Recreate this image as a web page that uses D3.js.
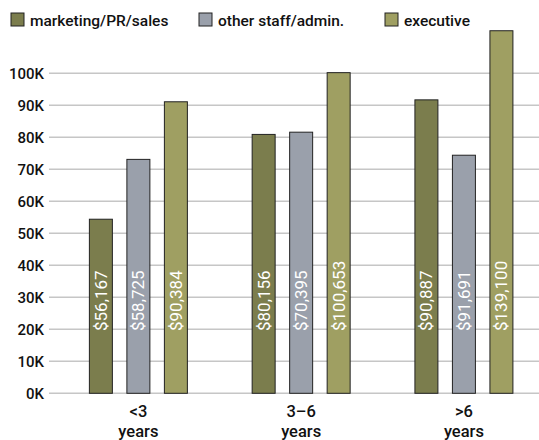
<!DOCTYPE html>
<html><head><meta charset="utf-8">
<script src="https://cdn.jsdelivr.net/npm/d3@7"></script>
<style>body{margin:0;background:#fff}svg{display:block}</style>
</head><body>
<script>
const categories = ["<3|years", "3–6|years", ">6|years"];
const seriesNames = ["marketing/PR/sales", "other staff/admin.", "executive"];
const seriesColors = ["#7b7d4d", "#9aa0ab", "#9f9f62"];
// bar heights as drawn (thousands)
const marketing = [54.4, 80.9, 91.7];
const otherStaff = [73.1, 81.6, 74.4];
const executive = [91.1, 100.2, 113.3];
// value labels printed on bars
const marketingLabels = ["$56,167", "$80,156", "$90,887"];
const otherStaffLabels = ["$58,725", "$70,395", "$91,691"];
const executiveLabels = ["$90,384", "$100,653", "$139,100"];
const yTicks = [0,10,20,30,40,50,60,70,80,90,100];

const W = 539, H = 440;
const svg = d3.select("body").append("svg").attr("width", W).attr("height", H);
const font = "Roboto, 'DejaVu Sans', sans-serif";

const y = d3.scaleLinear().domain([0, 100]).range([393.3, 73.3]);
const x0 = d3.scaleBand().domain(categories).range([57, 545.3]).paddingInner(0).paddingOuter(0);
const x1 = d3.scaleBand().domain(seriesNames).range([x0.bandwidth()/2 - 49, x0.bandwidth()/2 + 49]).paddingInner(0.387).paddingOuter(0);

// grid
const plotL = 49, plotR = 539;
svg.append("g").selectAll("line").data(yTicks).join("line")
  .attr("x1", plotL).attr("x2", plotR)
  .attr("y1", d => y(d)).attr("y2", d => y(d))
  .attr("stroke", "#c6c6c6").attr("stroke-width", 1.5);

// y axis labels
const yAxis = d3.axisLeft(y).tickValues(yTicks).tickFormat(d => d + "K").tickSize(0).tickPadding(0);
const ya = svg.append("g").attr("transform", `translate(44,0)`).call(yAxis);
ya.select(".domain").remove();
ya.selectAll("text").attr("font-family", font).attr("font-size", 15).attr("font-weight", 500).attr("fill", "#111");

const seriesVals = [marketing, otherStaff, executive];
const seriesLabels = [marketingLabels, otherStaffLabels, executiveLabels];
const data = [];
categories.forEach((c, i) => seriesNames.forEach((s, j) => data.push({c, s, j, v: seriesVals[j][i], lab: seriesLabels[j][i]})));

const g = svg.append("g");
g.selectAll("rect").data(data).join("rect")
  .attr("x", d => x0(d.c) + x1(d.s))
  .attr("y", d => y(d.v))
  .attr("width", x1.bandwidth())
  .attr("height", d => y(0) - y(d.v))
  .attr("fill", d => seriesColors[d.j])
  .attr("stroke", "#222").attr("stroke-width", 1);

g.selectAll("text.vl").data(data).join("text").attr("class", "vl")
  .attr("transform", d => `translate(${x0(d.c) + x1(d.s) + x1.bandwidth()/2 + 6},${331}) rotate(-90)`)
  .attr("font-family", font).attr("font-size", 17).attr("font-weight", 400).attr("fill", "#fff")
  .text(d => d.lab);

// x labels
const xl = svg.append("g").selectAll("text").data(categories).join("text")
  .attr("x", d => x0(d) + x0.bandwidth()/2)
  .attr("text-anchor", "middle")
  .attr("font-family", font).attr("font-size", 16.5).attr("font-weight", 500).attr("fill", "#111");
xl.append("tspan").attr("y", 417).attr("x", d => x0(d) + x0.bandwidth()/2).text(d => d.split("|")[0]);
xl.append("tspan").attr("y", 437).attr("x", d => x0(d) + x0.bandwidth()/2).text(d => d.split("|")[1]);

// legend
const legX = [11, 199, 385];
const leg = svg.append("g").selectAll("g").data(seriesNames).join("g")
  .attr("transform", (d, i) => `translate(${legX[i]},13)`);
leg.append("rect").attr("width", 13).attr("height", 13)
  .attr("fill", (d, i) => seriesColors[i]).attr("stroke", "#222").attr("stroke-width", 1);
leg.append("text").attr("x", 19).attr("y", 12.5)
  .attr("font-family", font).attr("font-size", 15.5).attr("font-weight", 500).attr("fill", "#111")
  .text(d => d);
</script>
</body></html>
